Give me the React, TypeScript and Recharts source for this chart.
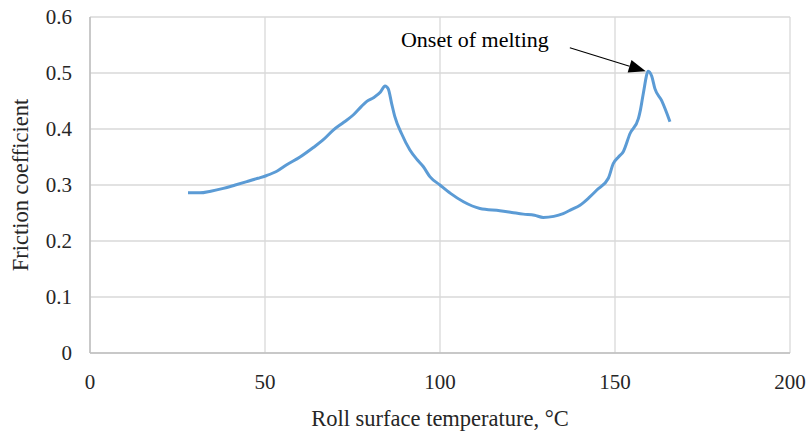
import React from "react";
import { CartesianGrid, Line, LineChart, ReferenceLine, XAxis, YAxis } from "recharts";

// Roll surface temperature (°C) and friction coefficient
const temperature = [
  28.0, 31.4, 34.5, 38.1, 41.5, 44.8, 48.0, 50.5, 53.5, 56.2, 60.0, 63.8, 66.5, 69.5, 72.5,
  75.2, 77.5, 79.0, 81.0, 83.0, 84.3, 85.2, 86.2, 87.1, 89.0, 91.4, 93.5, 95.2, 97.1, 100.0,
  103.0, 106.7, 111.4, 117.1, 120.5, 123.8, 127.0, 129.5, 132.5, 135.2, 137.5, 140.0, 142.5,
  144.8, 148.1, 149.5, 151.0, 152.4, 154.3, 156.7, 157.3, 158.1, 159.5, 160.5, 161.4, 163.3,
  165.7,
];
const friction = [
  0.286, 0.286, 0.289, 0.294, 0.3, 0.306, 0.312, 0.317, 0.325, 0.336, 0.35, 0.367, 0.38, 0.398,
  0.412, 0.425, 0.44, 0.449, 0.456, 0.466, 0.477, 0.472, 0.445, 0.422, 0.392, 0.3625, 0.345,
  0.333, 0.315, 0.3, 0.285, 0.27, 0.258, 0.254, 0.251, 0.248, 0.246, 0.242, 0.244, 0.249, 0.256,
  0.264, 0.277, 0.291, 0.312, 0.338, 0.35, 0.36, 0.392, 0.419, 0.435, 0.464, 0.503, 0.494, 0.472,
  0.451, 0.413,
];

const xTicks = [0, 50, 100, 150, 200];
const yTicks = [0, 0.1, 0.2, 0.3, 0.4, 0.5, 0.6];

// annotation arrow: from label end to the melting peak
const arrowFrom = { x: 137.1, y: 0.545 };
const arrowTo = { x: 158.8, y: 0.503 };
const annotation = "Onset of melting";

const FONT = '"Liberation Serif", "Times New Roman", serif';
const TEXT = "#262626";

const data = temperature.map((t, i) => ({ t, mu: friction[i] }));

function ArrowShape(props: any) {
  const { x1, y1, x2, y2 } = props;
  if ([x1, y1, x2, y2].some((v) => typeof v !== "number")) return null;
  const dx = x2 - x1;
  const dy = y2 - y1;
  const len = Math.sqrt(dx * dx + dy * dy);
  const ux = dx / len;
  const uy = dy / len;
  const head = 17;
  const half = 6.5;
  const bx = x2 - ux * head;
  const by = y2 - uy * head;
  return (
    <g>
      <line x1={x1} y1={y1} x2={bx} y2={by} stroke="#000" strokeWidth={1.2} />
      <polygon
        points={`${x2},${y2} ${bx - uy * half},${by + ux * half} ${bx + uy * half},${by - ux * half}`}
        fill="#000"
      />
      <text x={x1 - 21} y={y1 - 1} textAnchor="end" fontFamily={FONT} fontSize={22} fill="#000">
        {annotation}
      </text>
    </g>
  );
}

function YTitle(props: any) {
  const vb = props.viewBox ?? {};
  const cy = (vb.y ?? 17) + (vb.height ?? 336) / 2;
  return (
    <text
      transform={`translate(28, ${cy}) rotate(-90)`}
      textAnchor="middle"
      fontFamily={FONT}
      fontSize={22.5}
      fill={TEXT}
    >
      Friction coefficient
    </text>
  );
}

export default function App() {
  return (
    <div style={{ position: "absolute", left: 0, top: 0, width: 809, height: 432, background: "#fff" }}>
      <LineChart width={809} height={432} data={data} margin={{ top: 17, right: 19, left: 0, bottom: 0 }}>
        <CartesianGrid stroke="#d9d9d9" strokeWidth={1.3} />
        <XAxis
          dataKey="t"
          type="number"
          domain={[0, 200]}
          ticks={xTicks}
          height={79}
          stroke="#bfbfbf"
          strokeWidth={1.5}
          tickLine={false}
          tickMargin={15}
          tick={{ fill: TEXT, fontSize: 21, fontFamily: FONT }}
          label={{
            value: "Roll surface temperature, \u00b0C",
            position: "insideBottom",
            offset: 6,
            fill: TEXT,
            fontSize: 22.5,
            fontFamily: FONT,
          }}
        />
        <YAxis
          type="number"
          domain={[0, 0.6]}
          ticks={yTicks}
          width={90}
          stroke="#bfbfbf"
          strokeWidth={1.5}
          tickLine={false}
          tickMargin={12}
          tickFormatter={(v: number) => (v === 0 ? "0" : v.toFixed(1))}
          tick={{ fill: TEXT, fontSize: 21, fontFamily: FONT }}
          label={{ content: YTitle }}
        />
        <Line
          dataKey="mu"
          type="monotone"
          stroke="#5b9bd5"
          strokeWidth={3}
          dot={false}
          isAnimationActive={false}
        />
        <ReferenceLine segment={[arrowFrom, arrowTo]} shape={ArrowShape} />
      </LineChart>
    </div>
  );
}
